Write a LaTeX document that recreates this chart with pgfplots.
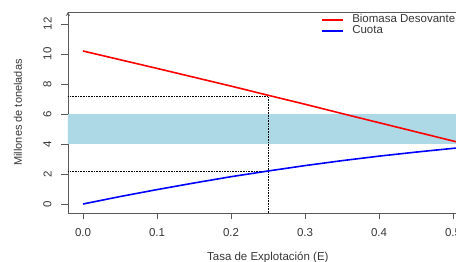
\documentclass[border=0pt]{standalone}
\usepackage{fontspec}
\setmainfont{Liberation Sans}
\usepackage{pgfplots}
\pgfplotsset{compat=1.18}
\definecolor{lblue}{HTML}{ADD8E6}
\definecolor{txt}{RGB}{55,55,55}
\definecolor{axgray}{RGB}{90,90,90}
\begin{document}
\begin{tikzpicture}
\useasboundingbox (-68pt,-49pt) rectangle (388pt,213pt);
\begin{axis}[
  at={(0,0)}, anchor=south west,
  scale only axis, width=388pt, height=201pt,
  xmin=-0.02027, xmax=0.504, ymin=-0.6, ymax=12.8,
  axis y line=left, axis x line=box,
  axis line style={axgray, line width=0.8pt},
  every axis y line/.append style={-},
  every axis x line/.append style={-},
  xtick={0,0.1,0.2,0.3,0.4,0.5},
  ytick={0,2,4,6,8,10,12},
  xtick pos=bottom, ytick pos=left,
  tick align=outside, major tick length=6.5pt,
  tick style={axgray, line width=0.8pt},
  /pgf/number format/assume math mode=true,
  xticklabel style={/pgf/number format/fixed, /pgf/number format/fixed zerofill, /pgf/number format/precision=1, font=\fontsize{11.5}{13}\selectfont, text=txt, yshift=-5pt},
  yticklabel style={rotate=90, anchor=center, font=\fontsize{11.5}{13}\selectfont, text=txt},
  yticklabel shift=14pt,
  xlabel={Tasa de Explotación (E)},
  ylabel={Millones de toneladas},
  xlabel style={at={(axis description cs:0.515,0)}, anchor=center, yshift=-44pt, font=\fontsize{11.5}{13}\selectfont, text=txt},
  ylabel style={at={(axis description cs:0,0.5)}, anchor=center, yshift=50pt, font=\fontsize{11}{13}\selectfont, text=txt},
  clip=true,
  legend style={at={(axis description cs:0.652,0.99)}, anchor=north west, draw=none, fill=none, inner sep=0pt, row sep=0pt, font=\fontsize{11.5}{12}\selectfont, text=txt, nodes={inner sep=0.5pt, text height=8pt, text depth=2pt}, /tikz/every odd column/.append style={column sep=8pt}},
  legend cell align=left,
  legend image code/.code={\draw[#1, line width=1.6pt] (0pt,0pt) -- (21pt,0pt);},
]
\addplot[fill=lblue, draw=none, forget plot] coordinates {(-0.05,4) (0.6,4) (0.6,6) (-0.05,6)} -- cycle;
\addplot[black, densely dotted, line width=0.6pt, forget plot] coordinates {(-0.05,7.18) (0.25,7.18)};
\addplot[black, densely dotted, line width=0.6pt, forget plot] coordinates {(-0.05,2.18) (0.25,2.18)};
\addplot[black, densely dotted, line width=0.6pt, forget plot] coordinates {(0.25,-0.6) (0.25,7.18)};
\addplot[red, line width=1.6pt] coordinates {
(0,10.2) (0.05,9.62) (0.1,9.04) (0.15,8.45) (0.2,7.86) (0.25,7.25) (0.3,6.65) (0.35,6.03) (0.4,5.42) (0.45,4.81) (0.5,4.2) (0.52,3.96)};
\addlegendentry{Biomasa Desovante}
\addplot[blue, line width=1.6pt] coordinates {
(0,0) (0.05,0.495) (0.1,0.96) (0.15,1.40) (0.2,1.82) (0.25,2.20) (0.3,2.56) (0.35,2.89) (0.4,3.19) (0.45,3.46) (0.5,3.71) (0.52,3.80)};
\addlegendentry{Cuota}
\end{axis}
\end{tikzpicture}
\end{document}
